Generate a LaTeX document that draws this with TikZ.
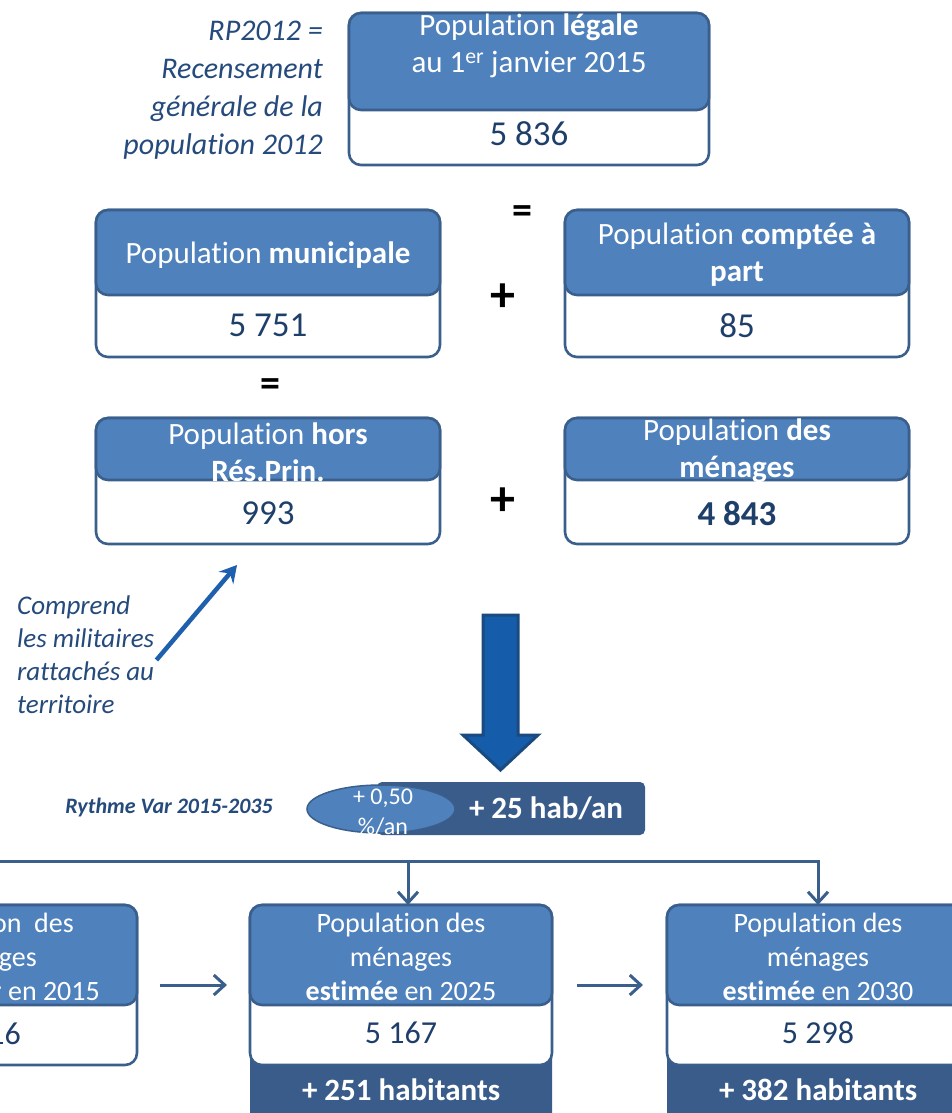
\documentclass[tikz,border=0pt]{standalone}
\usepackage{fontspec}
\setmainfont{Carlito}[Ligatures={NoCommon,NoContextual}]
\usetikzlibrary{arrows.meta,shapes.geometric}
\definecolor{headc}{HTML}{4F81BD}
\definecolor{bordc}{HTML}{3A5F8C}
\definecolor{darkc}{HTML}{395C8B}
\definecolor{numc}{HTML}{1F3F6B}
\definecolor{itc}{HTML}{254A7C}
\definecolor{annc}{HTML}{1E60AE}
\definecolor{bigfill}{HTML}{155DAA}
\definecolor{bigdraw}{HTML}{1A4A80}
\begin{document}
\begin{tikzpicture}[x=1pt,y=-1pt,
 outerbox/.style={draw=bordc,line width=2.6pt,fill=white,rounded corners=12pt,anchor=north west,inner sep=0pt,outer sep=0pt},
 headbox/.style={draw=bordc,line width=2.6pt,fill=headc,rounded corners=12pt,anchor=north west,inner sep=0pt,outer sep=0pt},
 darkbox/.style={fill=darkc,rounded corners=5pt,anchor=north west,inner sep=0pt,outer sep=0pt},
 headtxt/.style={text=white,font=\fontsize{31}{37}\selectfont,align=center,inner sep=0pt},
 lowtxt/.style={text=white,font=\fontsize{28}{34}\selectfont,align=center,inner sep=0pt},
 fragtxt/.style={text=white,font=\fontsize{28}{34}\selectfont,inner sep=0pt,anchor=base east},
 numtxt/.style={text=numc,font=\fontsize{35}{40}\selectfont,inner sep=0pt},
 numtxtsm/.style={text=numc,font=\fontsize{32}{38}\selectfont,inner sep=0pt},
 ittxt/.style={text=itc,font=\fontsize{30}{38}\selectfont\itshape,inner sep=0pt},
 cmttxt/.style={text=itc,font=\fontsize{27}{33}\selectfont\itshape,inner sep=0pt},
 eqtxt/.style={text=black,font=\fontsize{40}{40}\selectfont\bfseries,inner sep=0pt},
 plustxt/.style={text=black,font=\fontsize{50}{50}\selectfont\bfseries,inner sep=0pt},
 habtxt/.style={text=white,font=\fontsize{31}{36}\selectfont\bfseries,inner sep=0pt},
 conn/.style={draw=bordc,line width=3pt},
 connarrow/.style={conn,-{Straight Barb[length=11pt,width=20pt]}},
 annot/.style={draw=annc,line width=4.5pt,-{Stealth[length=17pt,width=19pt,inset=6pt]}},
]
\path[use as bounding box] (0,0) rectangle (952,1113);
\clip (0,0) rectangle (952,1113);
\fill[white] (0,0) rectangle (952,1113);

% left note
\node[ittxt,align=right,anchor=east] (rp) at (323,90) {RP2012 =\\Recensement\\générale de la\\population 2012};

% top box
\node[outerbox,minimum width=360pt,minimum height=152pt] (legalo) at (349,13) {};
\node[headbox,minimum width=360pt,minimum height=97pt] (legalh) at (349,13) {};
\node[headtxt] (legalt) at (529,46) {Population \textbf{légale}\\au 1\textsuperscript{er} janvier 2015};
\node[numtxt] (legaln) at (529,134) {5 836};

% municipale
\node[outerbox,minimum width=344pt,minimum height=147pt] (munio) at (96,210) {};
\node[headbox,minimum width=344pt,minimum height=85pt] (munih) at (96,210) {};
\node[headtxt] (munit) at (268,255) {Population \textbf{municipale}};
\node[numtxt] (munin) at (268,325) {5 751};

% comptee a part
\node[outerbox,minimum width=344pt,minimum height=147pt] (cpto) at (565,210) {};
\node[headbox,minimum width=344pt,minimum height=85pt] (cpth) at (565,210) {};
\node[headtxt] (cptt) at (737,255) {Population \textbf{comptée à}\\\textbf{part}};
\node[numtxt] (cptn) at (737,326) {85};

% hors res prin
\node[outerbox,minimum width=344pt,minimum height=126pt] (horso) at (96,418) {};
\node[headbox,minimum width=344pt,minimum height=62pt] (horsh) at (96,418) {};
\node[headtxt] (horst) at (268,452) {Population \textbf{hors}\\\textbf{Rés.Prin.}};
\node[numtxt] (horsn) at (268,513) {993};

% menages
\node[outerbox,minimum width=344pt,minimum height=126pt] (meno) at (565,418) {};
\node[headbox,minimum width=344pt,minimum height=62pt] (menh) at (565,418) {};
\node[headtxt] (ment) at (737,451) {Population \textbf{des}\\\textbf{ménages}};
\node[numtxt] (menn) at (737,514) {\textbf{4 843}};

% operators
\node[eqtxt] (eq1) at (522,215) {=};
\node[plustxt] (plus1) at (503,298) {+};
\node[eqtxt] (eq2) at (270,388) {=};
\node[plustxt] (plus2) at (503,502) {+};

% comment + arrow
\node[cmttxt,align=left,anchor=west] (comp) at (17,655) {Comprend\\les militaires\\rattachés au\\territoire};
\coordinate (anntip) at (237,565);
\draw[annot] ([shift={(2,5)}]comp.east) -- (anntip);

% big arrow
\draw[fill=bigfill,draw=bigdraw,line width=3pt,line join=miter] (483,615) -- (518,615) -- (518,735) -- (538,735) -- (500.5,770) -- (463,735) -- (483,735) -- cycle;

% rythme
\node[text=itc,font=\fontsize{22}{26}\selectfont\bfseries\itshape,anchor=east,inner sep=0pt] (ryth) at (273,808) {Rythme Var 2015-2035};
\node[darkbox,minimum width=268pt,minimum height=53pt] (rbar) at (377,782) {};
\node[ellipse,draw=bordc,line width=1.5pt,fill=headc,minimum width=148pt,minimum height=48pt,inner sep=0pt] (rell) at (381,809) {};
\node[text=white,font=\fontsize{24}{30}\selectfont,align=center,inner sep=0pt] (rpct) at (383,812) {+ 0,50\\\%/an};
\node[habtxt] (rhab) at (546,808) {+ 25 hab/an};

% bottom left box (cut by the frame)
\node[outerbox,minimum width=302pt,minimum height=160pt] (b15o) at (-165,905) {};
\node[headbox,minimum width=302pt,minimum height=100pt] (b15h) at (-165,905) {};
\node[fragtxt] (b15a) at (74,932) {on~~des};
\node[fragtxt] (b15b) at (37,966) {ges};
\node[fragtxt] (b15c) at (100,1000) {r en 2015};
\node[numtxtsm,anchor=base east] (b15n) at (21,1044) {16};

% bottom middle box
\node[darkbox,minimum width=302pt,minimum height=90pt] (d25) at (250,1050) {};
\node[outerbox,minimum width=302pt,minimum height=160pt] (b25o) at (250,905) {};
\node[headbox,minimum width=302pt,minimum height=100pt] (b25h) at (250,905) {};
\node[lowtxt] (b25t) at (401,957) {Population des\\ménages\\\textbf{estimée} en 2025};
\node[numtxtsm] (b25n) at (401,1033) {5 167};
\node[habtxt] (b25d) at (401,1090) {+ 251 habitants};

% bottom right box
\node[darkbox,minimum width=302pt,minimum height=90pt] (d30) at (667,1050) {};
\node[outerbox,minimum width=302pt,minimum height=160pt] (b30o) at (667,905) {};
\node[headbox,minimum width=302pt,minimum height=100pt] (b30h) at (667,905) {};
\node[lowtxt] (b30t) at (818,957) {Population des\\ménages\\\textbf{estimée} en 2030};
\node[numtxtsm] (b30n) at (818,1033) {5 298};
\node[habtxt] (b30d) at (818,1090) {+ 382 habitants};

% connectors
\coordinate (busL) at (-20,861);
\draw[connarrow] (busL) -| (b30o.north);
\draw[connarrow] ([xshift=7pt]b25o.north |- busL) -- ([xshift=7pt]b25o.north);
\draw[connarrow] ([xshift=23pt]b15o.east) -- ([xshift=-23pt]b25o.west);
\draw[connarrow] ([xshift=25pt]b25o.east) -- ([xshift=-24pt]b30o.west);
\end{tikzpicture}
\end{document}
